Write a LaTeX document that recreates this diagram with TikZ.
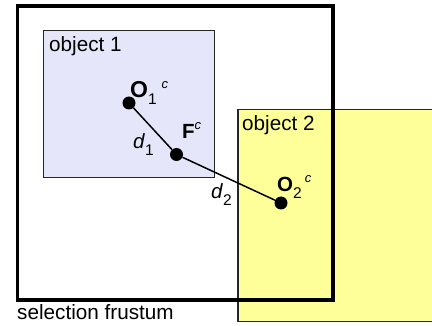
\documentclass[tikz,border=0pt]{standalone}
\usepackage{fontspec}
\setmainfont{Liberation Sans}
\usepackage{tikz}
\usetikzlibrary{positioning}

\definecolor{objblue}{HTML}{E6E6FA}
\definecolor{objyellow}{HTML}{FFFF99}

\newcommand{\lowidx}[1]{\raisebox{-7pt}{\fontsize{15.5}{15}\selectfont #1}}
\newcommand{\upidx}[1]{\raisebox{9pt}{\fontsize{13}{13}\selectfont\itshape #1}}

\begin{document}
\begin{tikzpicture}[
    x=1pt, y=-1pt,
    every node/.style={font=\fontsize{20.7}{24}\selectfont, inner sep=0pt},
    object/.style={draw=black!85, line width=1.6pt},
    frustum/.style={draw=black, line width=3.5pt},
    dot/.style={circle, fill=black, minimum size=13pt, inner sep=0pt},
    link/.style={draw=black, line width=1.5pt},
    tag/.style={anchor=base west},
    sym/.style={anchor=base west, font=\fontsize{20.5}{24}\selectfont}
]
\useasboundingbox (0,0) rectangle (432,326);

% objects and frustum
\path[object, fill=objyellow] (238,109.7) rectangle (440,321.7);
\path[object, line width=1.3pt, fill=objblue] (43.5,30.8) rectangle (214.4,177.4);
\path[frustum] (17.3,6) rectangle (333,300);

\node[tag] (obj1) at (49,52) {object 1};
\node[tag] (obj2) at (242,131) {object 2};
\node[tag] (sel) at (17,320) {selection frustum};

% centres and closest point
\node[dot] (o1) at (129,103) {};
\node[dot] (f) at (176.5,154.5) {};
\node[dot] (o2) at (281,203) {};

\draw[link] (o1) -- (f);
\draw[link] (f) -- (o2);

% labels
\node[sym, font=\fontsize{23}{24}\selectfont] (o1lab) at (130,98)
    {\textbf{O}\lowidx{1}\hspace{5pt}\upidx{c}};
\node[sym] (flab) at (182,139) {\textbf{F}\upidx{c}};
\node[sym] (o2lab) at (277,192) {\textbf{O}\lowidx{2}\hspace{3pt}\upidx{c}};
\node[sym] (d1lab) at (133,149) {\textit{d}\lowidx{1}};
\node[sym] (d2lab) at (211,199) {\textit{d}\lowidx{2}};
\end{tikzpicture}
\end{document}
